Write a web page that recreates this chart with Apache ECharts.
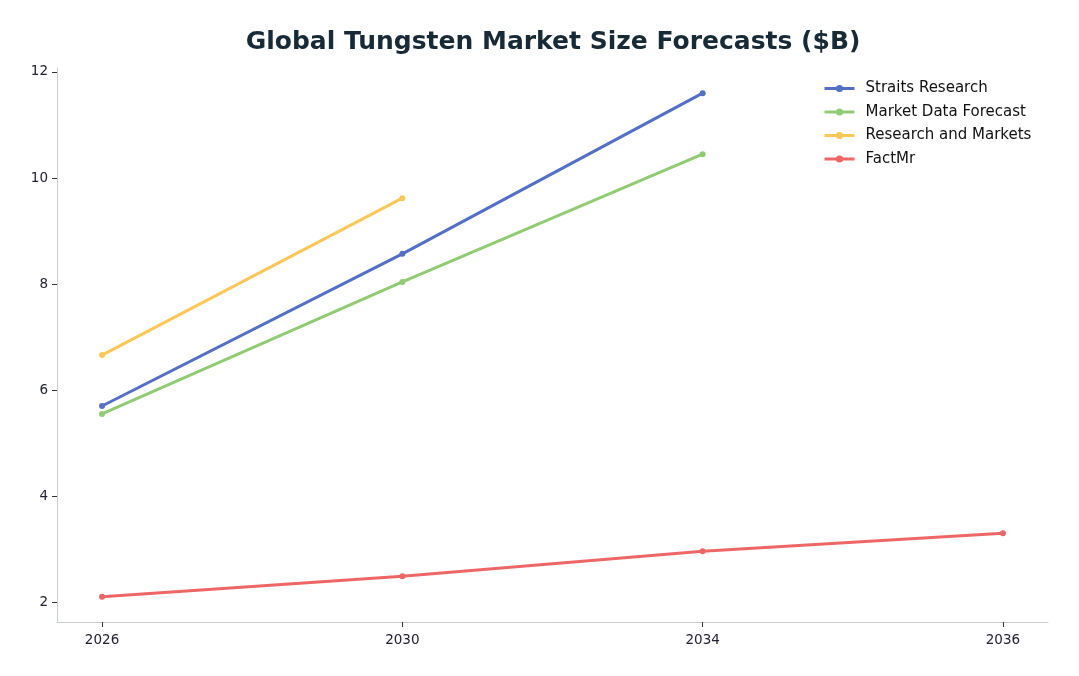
<!DOCTYPE html>
<html>
<head>
<meta charset="utf-8">
<script src="https://cdn.jsdelivr.net/npm/echarts@6/dist/echarts.min.js"></script>
<style>
html, body { margin: 0; padding: 0; background: #fff; }
#chart { width: 1079px; height: 676px; }
</style>
</head>
<body>
<div id="chart"></div>
<script>
// 年份（类目）
var years = ['2026', '2030', '2034', '2036'];
// 各机构预测值（$B）
var straits = [5.70, 8.57, 11.60, null];
var mdf = [5.55, 8.04, 10.45, null];
var ram = [6.66, 9.62, null, null];
var factMr = [2.10, 2.49, 2.96, 3.30];
var yTicks = [2, 4, 6, 8, 10, 12];

var seriesNames = ['Straits Research', 'Market Data Forecast', 'Research and Markets', 'FactMr'];
var seriesData = [straits, mdf, ram, factMr];
var colors = ['#5470c6', '#91cc75', '#fac858', '#ee6666'];

function toPairs(arr) {
	var out = [];
	for (var i = 0; i < arr.length; i++) {
		if (arr[i] != null) out.push([i, arr[i]]);
	}
	return out;
}

var series = [];
for (var i = 0; i < seriesNames.length; i++) {
	series.push({
		name: seriesNames[i],
		type: 'line',
		data: toPairs(seriesData[i]),
		symbol: 'circle',
		symbolSize: 6,
		lineStyle: { width: 3, color: colors[i] },
		itemStyle: { color: colors[i] },
		emphasis: { disabled: true }
	});
}

var myChart = echarts.init(document.getElementById('chart'));
var option = {
	animation: false,
	title: {
		text: 'Global Tungsten Market Size Forecasts ($B)',
		left: 548,
		textAlign: 'center',
		top: 25,
		textStyle: {
			fontFamily: 'DejaVu Sans',
			fontSize: 25,
			fontWeight: 'bold',
			color: '#182a36'
		}
	},
	legend: {
		data: seriesNames,
		left: 823,
		top: 81,
		padding: 0,
		orient: 'vertical',
		itemWidth: 30,
		itemHeight: 9,
		itemGap: 8.5,
		lineStyle: { width: 3 },
		textStyle: { fontFamily: 'DejaVu Sans', fontSize: 15, color: '#111', padding: [0, 0, 0, 6] }
	},
	grid: { left: 57, right: 31, top: 68, bottom: 54 },
	xAxis: {
		type: 'value',
		min: -0.15,
		max: 3.15,
		splitLine: { show: false },
		axisLine: { onZero: false, lineStyle: { color: '#c8cdd0' } },
		axisTick: { show: true, customValues: [0, 1, 2, 3], length: 5, lineStyle: { color: '#333' } },
		axisLabel: {
			customValues: [0, 1, 2, 3],
			formatter: function (v) { return years[Math.round(v)]; },
			fontFamily: 'DejaVu Sans', fontSize: 13.5, color: '#223', margin: 11
		}
	},
	yAxis: {
		type: 'value',
		min: 1.625,
		max: 12.075,
		splitLine: { show: false },
		axisLine: { show: true, onZero: false, lineStyle: { color: '#c8cdd0' } },
		axisTick: { show: true, customValues: yTicks, length: 5, lineStyle: { color: '#333' } },
		axisLabel: {
			customValues: yTicks,
			fontFamily: 'DejaVu Sans', fontSize: 13.5, color: '#223', margin: 9
		}
	},
	series: series
};
myChart.setOption(option);
</script>
</body>
</html>
